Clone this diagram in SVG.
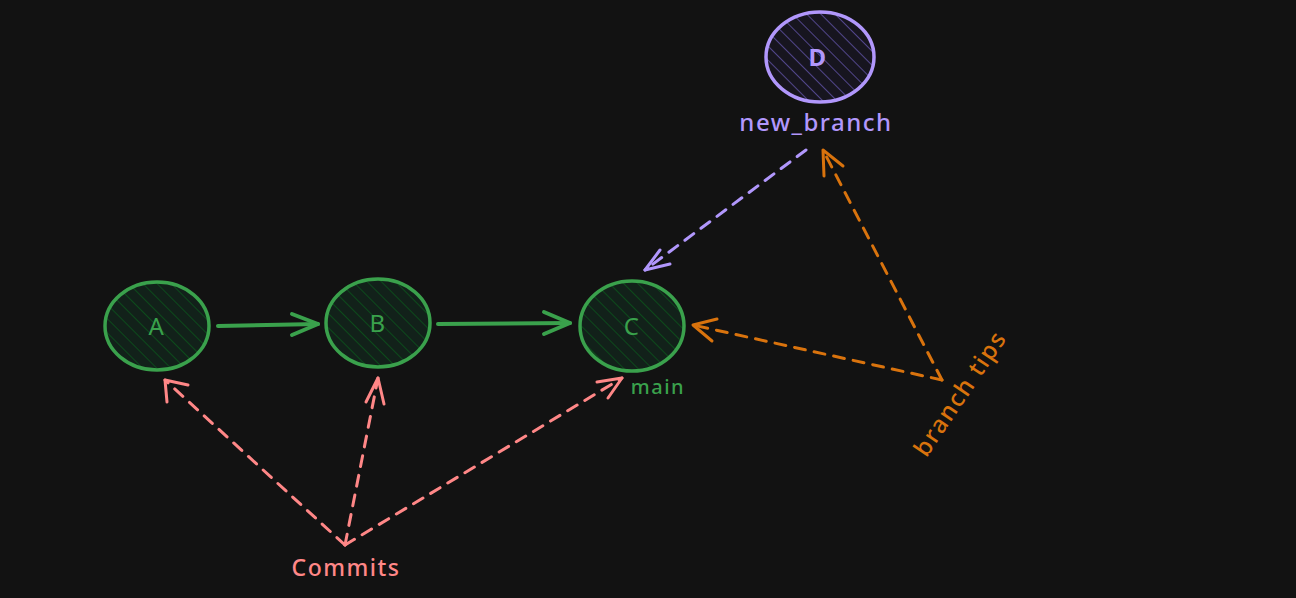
<svg xmlns="http://www.w3.org/2000/svg" width="1296" height="598" viewBox="0 0 1296 598">
<defs>
<pattern id="hg" width="10" height="10" patternUnits="userSpaceOnUse" patternTransform="rotate(-45)">
<rect width="10" height="10" fill="#12211a"/>
<line x1="0" y1="0" x2="0" y2="10" stroke="#0c4a1b" stroke-width="2"/>
</pattern>
<pattern id="hp" width="10" height="10" patternUnits="userSpaceOnUse" patternTransform="rotate(-45)">
<rect width="10" height="10" fill="#17151f"/>
<line x1="0" y1="0" x2="0" y2="10" stroke="#51458a" stroke-width="2"/>
</pattern>
<style>
.node-g{fill:url(#hg);stroke:#3aa14c;stroke-width:3.5}
.node-p{fill:url(#hp);stroke:#b197fc;stroke-width:3.5}
.t{font-family:"Noto Sans",sans-serif;text-anchor:middle;letter-spacing:1.5px}
.solid{fill:none;stroke:#3aa14c;stroke-width:4;stroke-linecap:round;stroke-linejoin:round}
.dash{fill:none;stroke-width:3;stroke-dasharray:11 9;stroke-linecap:round}
.head{fill:none;stroke-width:3;stroke-linecap:round;stroke-linejoin:round}
</style>
</defs>
<rect width="1296" height="598" fill="#121212"/>
<g id="node-A">
<ellipse class="node-g" cx="157" cy="326" rx="52" ry="44"/>
<text class="t" x="157" y="335" font-size="24" fill="#3aa14c">A</text>
</g>
<g id="node-B">
<ellipse class="node-g" cx="378" cy="323" rx="52" ry="44"/>
<text class="t" x="378" y="332" font-size="24" fill="#3aa14c">B</text>
</g>
<g id="node-C">
<ellipse class="node-g" cx="632" cy="326" rx="52" ry="45"/>
<text class="t" x="632" y="335" font-size="24" fill="#3aa14c">C</text>
</g>
<g id="node-D">
<ellipse class="node-p" cx="820" cy="57" rx="54" ry="45"/>
<text class="t" x="818" y="66" font-size="24" fill="#b197fc" font-weight="bold">D</text>
</g>
<g id="labels">
<text class="t" x="658" y="394" font-size="20" fill="#3aa14c" font-weight="500">main</text>
<text class="t" x="816" y="131" font-size="24" fill="#b197fc" font-weight="500">new_branch</text>
<text class="t" x="346" y="576" font-size="23" fill="#ff8787" font-weight="500">Commits</text>
<text class="t" transform="translate(967,398) rotate(-56)" font-size="24" fill="#d9730d" font-weight="500">branch tips</text>
</g>
<g id="connectors">
<path class="solid" d="M218 326 L318 324"/>
<path class="solid" d="M292 314 L318 324 L292 335"/>
<path class="solid" d="M438 324 L570 323"/>
<path class="solid" d="M544 312 L570 323 L544 334"/>
<path class="dash" stroke="#b197fc" d="M806 150 L645 270"/>
<path class="head" stroke="#b197fc" d="M660 250 L645 270 L670 264"/>
<path class="dash" stroke="#ff8787" d="M345 545 L165 380"/>
<path class="head" stroke="#ff8787" d="M167 402 L165 380 L188 385"/>
<path class="dash" stroke="#ff8787" d="M345 545 L378 378"/>
<path class="head" stroke="#ff8787" d="M366 402 L378 378 L384 404"/>
<path class="dash" stroke="#ff8787" d="M345 545 L622 378"/>
<path class="head" stroke="#ff8787" d="M597 382 L622 378 L608 398"/>
<path class="dash" stroke="#d9730d" d="M942 380 L823 150"/>
<path class="head" stroke="#d9730d" d="M824 176 L823 150 L843 166"/>
<path class="dash" stroke="#d9730d" d="M942 380 L693 325"/>
<path class="head" stroke="#d9730d" d="M712 341 L693 325 L717 319"/>
</g>
</svg>
